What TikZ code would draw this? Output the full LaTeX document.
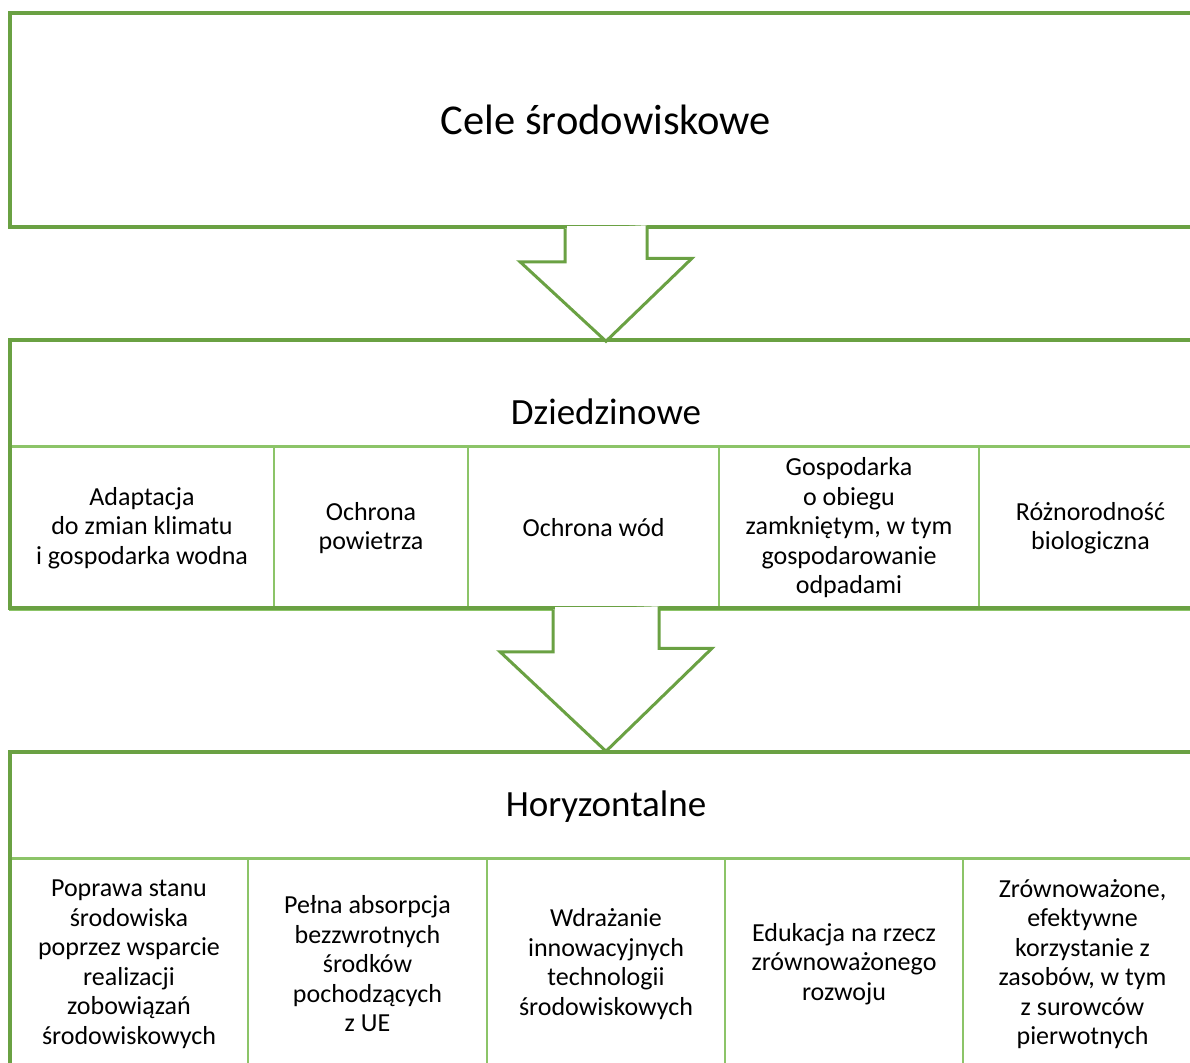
\documentclass[tikz,border=0pt]{standalone}
\usepackage{fontspec}
\setmainfont{Carlito}
\usetikzlibrary{shapes,arrows}
\definecolor{darkgreen}{RGB}{106,161,67}
\definecolor{lightgreen}{RGB}{140,196,104}
\tikzstyle{frame} = [rectangle, draw=darkgreen, line width=3.5pt,
    minimum width=1192pt, inner sep=0pt]
\tikzstyle{cell} = [rectangle, draw=lightgreen, line width=2.5pt, align=center,
    inner sep=0pt, font=\fontsize{26}{29.5}\selectfont]
\tikzstyle{title} = [font=\fontsize{37}{44}\selectfont]
\tikzstyle{bigarrow} = [draw=darkgreen, fill=white, line width=3pt, miter limit=20]

\begin{document}
\begin{tikzpicture}[x=1pt, y=-1pt]
    \clip (0,0) rectangle (1190,1062);
    % Place nodes
    \node [frame, minimum height=214pt, font=\fontsize{42.5}{50}\selectfont] (cele) at (606,120) {Cele środowiskowe};

    \node [cell, minimum width=264pt, minimum height=163pt] (adaptacja) at (142,528) {Adaptacja\\do zmian klimatu\\i gospodarka wodna};
    \node [cell, minimum width=194pt, minimum height=163pt] (powietrze) at (371,528) {Ochrona\\powietrza};
    \node [cell, minimum width=251pt, minimum height=163pt] (wody) at (593.5,528) {Ochrona wód};
    \node [cell, minimum width=260pt, minimum height=163pt] (obieg) at (849,528) {Gospodarka\\o obiegu\\zamkniętym, w tym\\gospodarowanie\\odpadami};
    \node [cell, minimum width=223pt, minimum height=163pt] (bioroznorodnosc) at (1090.5,528) {Różnorodność\\biologiczna};
    \node [frame, minimum height=268pt] (dziedzinowe box) at (606,474) {};
    \node [title] (dziedzinowe) at (606,412) {Dziedzinowe};

    \node [cell, minimum width=238pt, minimum height=211pt] (poprawa) at (129,964) {Poprawa stanu\\środowiska\\poprzez wsparcie\\realizacji\\zobowiązań\\środowiskowych};
    \node [cell, minimum width=239pt, minimum height=211pt] (absorpcja) at (367.5,964) {Pełna absorpcja\\bezzwrotnych\\środków\\pochodzących\\z UE};
    \node [cell, minimum width=238pt, minimum height=211pt] (innowacje) at (606,964) {Wdrażanie\\innowacyjnych\\technologii\\środowiskowych};
    \node [cell, minimum width=238pt, minimum height=211pt] (edukacja) at (844,964) {Edukacja na rzecz\\zrównoważonego\\rozwoju};
    \node [cell, minimum width=239pt, minimum height=211pt] (zasoby) at (1082.5,964) {Zrównoważone,\\efektywne\\korzystanie z\\zasobów, w tym\\z surowców\\pierwotnych};
    \node [frame, minimum height=316pt] (horyzontalne box) at (606,910) {};
    \node [title] (horyzontalne) at (606,807) {Horyzontalne};

    % Draw arrows
    \path [bigarrow] ([xshift=-41pt]cele.south) -- ++(0,33) -- ++(-45,0)
        -- ([yshift=-3pt]dziedzinowe box.north) -- ++(86,-83) -- ++(-45,0) -- ++(0,-33);
    \fill [white] ([xshift=-39pt,yshift=3pt]cele.south) rectangle ([xshift=39pt,yshift=-3pt]cele.south);
    \path [bigarrow] ([xshift=-53pt]dziedzinowe box.south) -- ++(0,42) -- ++(-53,0)
        -- ([yshift=-1pt]horyzontalne box.north) -- ++(106,-103) -- ++(-53,0) -- ++(0,-42);
    \fill [white] ([xshift=-51pt,yshift=3pt]dziedzinowe box.south) rectangle ([xshift=51pt,yshift=-2pt]dziedzinowe box.south);
\end{tikzpicture}
\end{document}
